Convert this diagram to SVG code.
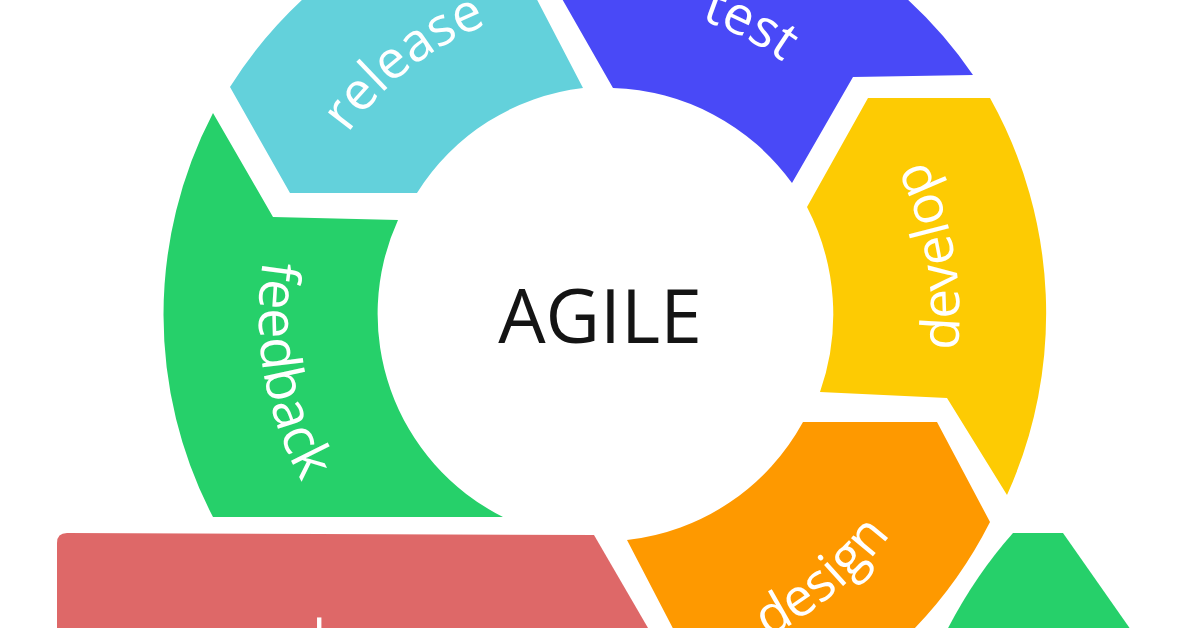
<svg xmlns="http://www.w3.org/2000/svg" width="1196" height="628" viewBox="0 0 1196 628">
<style>
.lbl{font-family:"Open Sans","Noto Sans","DejaVu Sans",sans-serif;font-size:53px;fill:#ffffff;}
.title{font-family:"Open Sans","Noto Sans","DejaVu Sans",sans-serif;font-size:75px;fill:#141414;}
</style>
<defs>
<path id="p-release" d="M292,277 A312,312 0 0 1 640,5"/>
<path id="p-test" d="M506,19 A311,311 0 0 1 898,219"/>
<path id="p-feedback" d="M321,118 A343,343 0 0 0 405,596"/>
<path id="p-develop" d="M895,520 A358,358 0 0 0 807,22"/>
<path id="p-design" d="M570,676 A362,362 0 0 0 963,347"/>
</defs>
<rect width="1196" height="628" fill="#ffffff"/>
<g id="connectors"/>
<g id="feedback">
<path d="M213,113 L273,217 L398,220 A227,227 0 0 0 503,517 L213,517 A437,437 0 0 1 213,113 Z" fill="#26D06A"/>
<text class="lbl" style="font-size:54px"><textPath href="#p-feedback" startOffset="50%" text-anchor="middle">feedback</textPath></text>
</g>
<g id="release">
<path d="M230,87 L290,193 L417,193 A227,227 0 0 1 583,88 L532,-10 L313,-10 A437,437 0 0 0 230,87 Z" fill="#63D1DB"/>
<text class="lbl"><textPath href="#p-release" startOffset="50%" text-anchor="middle">release</textPath></text>
</g>
<g id="test">
<path d="M557,-10 L613,88 A230,230 0 0 1 792,183 L853,77 L973,75 A439,439 0 0 0 897,-10 Z" fill="#4949F7"/>
<text class="lbl"><textPath href="#p-test" startOffset="50%" text-anchor="middle">test</textPath></text>
</g>
<g id="develop">
<path d="M868,98 L990,98 A441,441 0 0 1 1007,495 L947,398 L820,392 A233,233 0 0 0 807,207 Z" fill="#FDCB03"/>
<text class="lbl"><textPath href="#p-develop" startOffset="50%" text-anchor="middle">develop</textPath></text>
</g>
<g id="design">
<path d="M803,422 L937,422 L990,522 A441,441 0 0 1 903,640 L679,640 L627,540 A229,229 0 0 0 803,422 Z" fill="#FE9900"/>
<text class="lbl"><textPath href="#p-design" startOffset="50%" text-anchor="middle">design</textPath></text>
</g>
<g id="plan">
<path d="M57,640 L57,543 Q57,533 67,533 L594,535 L655,640 Z" fill="#DE6868"/>
<text class="lbl" x="334" y="658" text-anchor="middle">plan</text>
</g>
<g id="next">
<path d="M942,640 Q972,579 1013,533 L1063,533 L1138,640 Z" fill="#26D06A"/>
</g>
<g id="center">
<text class="title" x="600" y="343" text-anchor="middle">AGILE</text>
</g>
</svg>
